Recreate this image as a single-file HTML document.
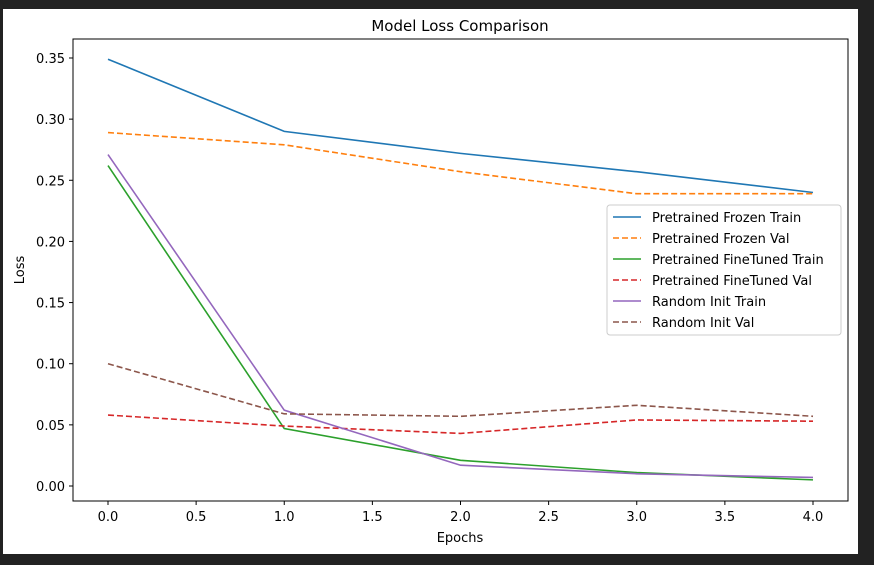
<!DOCTYPE html>
<html><head><meta charset="utf-8"><style>
body{margin:0;background:#222;width:874px;height:565px;overflow:hidden}
svg{display:block;font-family:"DejaVu Sans","Liberation Sans",sans-serif}
</style></head><body>
<svg id="c" width="874" height="565">
<rect x="3" y="9" width="855" height="545" fill="#fff"/>
</svg>
<script>
const epochs=[0,1,2,3,4];
const frozenTrain=[0.349,0.290,0.272,0.257,0.240];
const frozenVal=[0.289,0.279,0.257,0.239,0.239];
const ftTrain=[0.262,0.047,0.021,0.011,0.005];
const ftVal=[0.058,0.049,0.043,0.054,0.053];
const randTrain=[0.271,0.062,0.017,0.010,0.007];
const randVal=[0.100,0.059,0.057,0.066,0.057];
const xTicks=["0.0","0.5","1.0","1.5","2.0","2.5","3.0","3.5","4.0"];
const yTicks=["0.00","0.05","0.10","0.15","0.20","0.25","0.30","0.35"];
const seriesNames=["Pretrained Frozen Train","Pretrained Frozen Val","Pretrained FineTuned Train","Pretrained FineTuned Val","Random Init Train","Random Init Val"];
const svg=document.getElementById('c');const NS="http://www.w3.org/2000/svg";
const X=v=>108+v*176.25, Y=v=>486-v*1222.9;
function el(t,a,txt){const e=document.createElementNS(NS,t);for(const k in a)e.setAttribute(k,a[k]);if(txt!=null)e.textContent=txt;svg.appendChild(e);return e;}
const L=73,T=39,R=848,B=501;
let e=el('rect',{x:L,y:T,width:R-L,height:B-T,fill:'none',stroke:'#000','stroke-width':1});


xTicks.forEach(t=>{const x=X(parseFloat(t));
let l=el('line',{x1:x,x2:x,y1:B,y2:B+4,stroke:'#000'});


let s=el('text',{x:x,y:B+20,'text-anchor':'middle','font-size':13},t);

});
yTicks.forEach(t=>{const y=Y(parseFloat(t));
let l=el('line',{x1:L-4,x2:L,y1:y,y2:y,stroke:'#000'});


let s=el('text',{x:L-8,y:y+5,'text-anchor':'end','font-size':13},t);

});
const data=[frozenTrain,frozenVal,ftTrain,ftVal,randTrain,randVal];
const colors=['#1f77b4','#ff7f0e','#2ca02c','#d62728','#9467bd','#8c564b'];
const dashed=[false,true,false,true,false,true];
data.forEach((d,i)=>{const p=el('polyline',{points:d.map((v,j)=>X(epochs[j])+','+Y(v)).join(' '),fill:'none',stroke:colors[i],'stroke-width':1.6,'stroke-dasharray':dashed[i]?'6,3':'none'});

});
let t=el('text',{x:460,y:31,'text-anchor':'middle','font-size':15},'Model Loss Comparison');


t=el('text',{x:460,y:542,'text-anchor':'middle','font-size':13},'Epochs');


t=el('text',{x:24,y:270,'text-anchor':'middle','font-size':13,transform:'rotate(-90 24 270)'},'Loss');


let lg=el('rect',{x:607,y:205,width:234,height:130,fill:'#fff',stroke:'#ccc',rx:3});


seriesNames.forEach((n,i)=>{const y=217+i*21;
let l=el('line',{x1:613,x2:641,y1:y,y2:y,stroke:colors[i],'stroke-width':1.6,'stroke-dasharray':dashed[i]?'6,3':'none'});


let s=el('text',{x:652,y:y+5,'font-size':13},n);

});
</script>
</body></html>
